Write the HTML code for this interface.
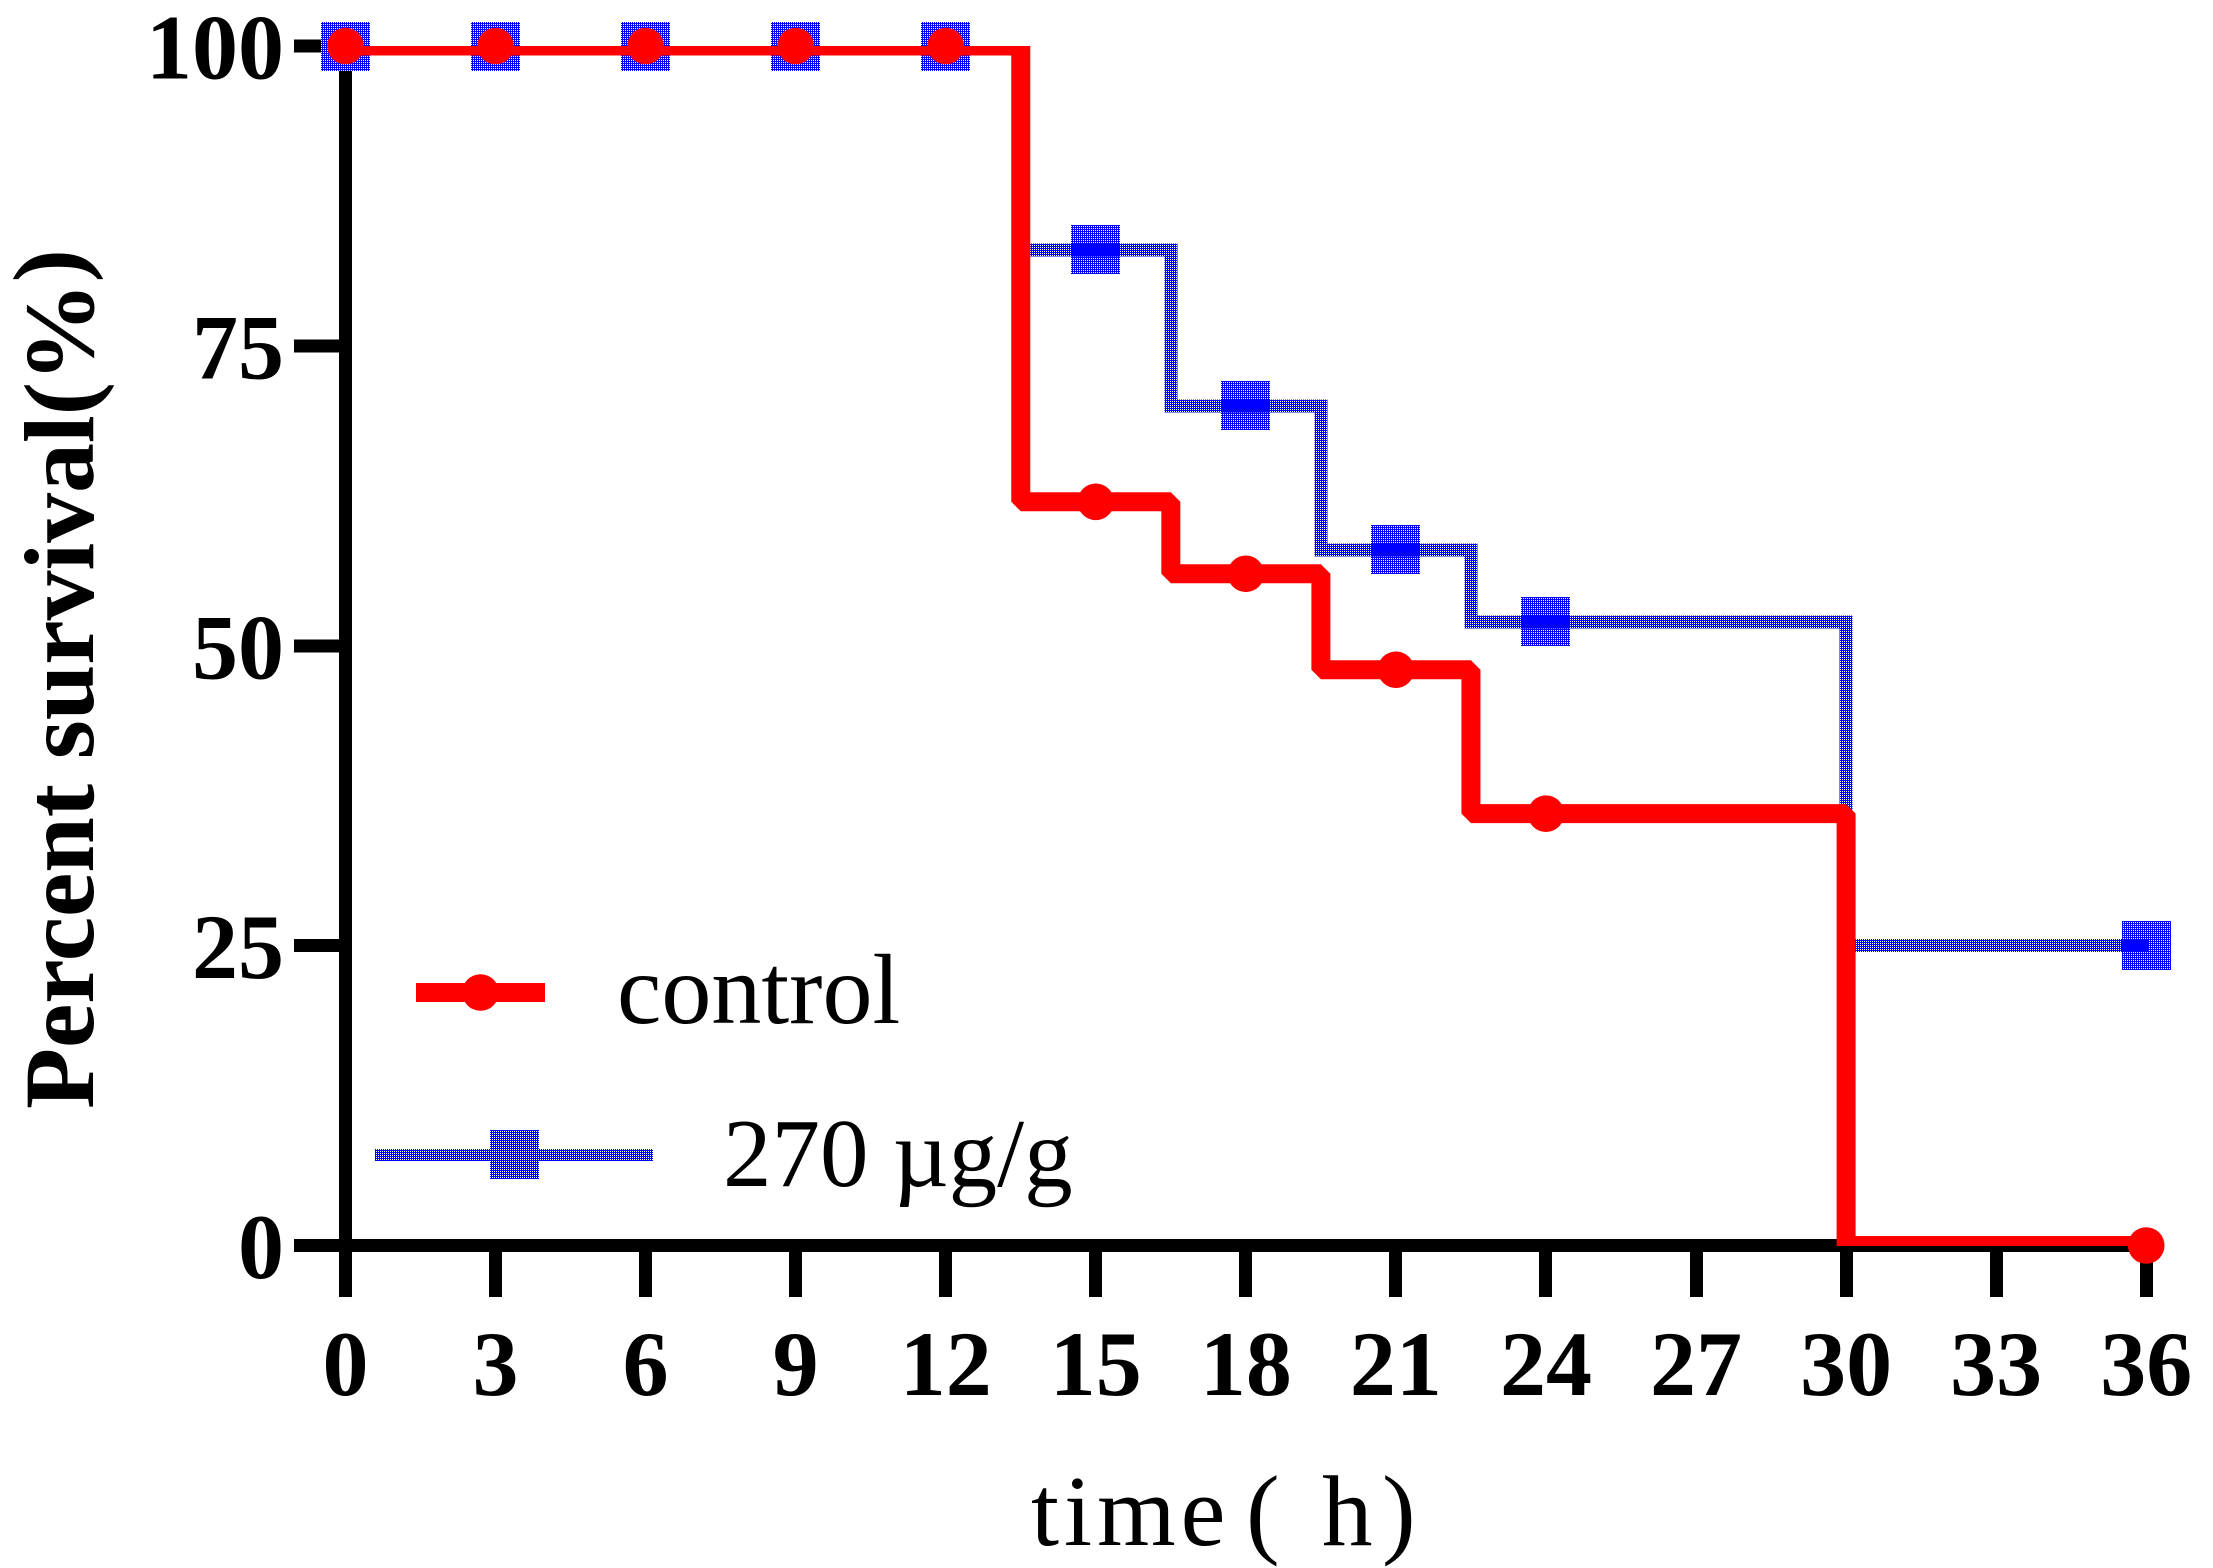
<!DOCTYPE html>
<html lang="en">
<head>
<meta charset="utf-8">
<title>Percent survival over time</title>
<style>
  html, body { margin: 0; padding: 0; background: #fff; }
  body { width: 2213px; height: 1568px; overflow: hidden; }
  svg { display: block; }
  text { font-family: "Liberation Serif", "Noto Serif CJK SC", serif; fill: #000; }
  .tick-label { font-size: 92px; font-weight: bold; }
</style>
</head>
<body>
<svg id="chart" xmlns="http://www.w3.org/2000/svg" width="2213" height="1568" viewBox="0 0 2213 1568">
  <defs>
    <pattern id="line-dither" patternUnits="userSpaceOnUse" x="0" y="0" width="2" height="2">
      <rect x="0" y="0" width="2" height="1" fill="#0000ff"></rect>
      <rect x="1" y="1" width="1" height="1" fill="#0000ff"></rect>
    </pattern>
    <pattern id="marker-dither" patternUnits="userSpaceOnUse" x="0" y="0" width="2" height="2">
      <rect x="0" y="0" width="2" height="2" fill="#0000ff"></rect>
      <rect x="1" y="0" width="1" height="1" fill="#ffffff"></rect>
    </pattern>
    <clipPath id="plot-clip">
      <rect x="300" y="46" width="1900" height="1200"></rect>
    </clipPath>
  </defs>

  <g id="axes"></g>
  <g id="series"></g>

  <text transform="translate(93,1109) rotate(-90)" font-size="100" font-weight="bold" textLength="860" lengthAdjust="spacing">Percent survival(%<tspan dy="-11">)</tspan></text>

  <text y="1545" font-size="101"><tspan x="1031" letter-spacing="5">time</tspan><tspan x="1246">(</tspan><tspan x="1290"> </tspan><tspan x="1322">h</tspan><tspan x="1382">)</tspan></text>

  <g>
    <g>
      <rect x="416" y="983" width="129" height="19" fill="#ff0000"></rect>
      <circle cx="480.5" cy="992.5" r="18.3" fill="#ff0000"></circle>
      <text x="617" y="1023" font-size="100">control</text>
    </g>
    <g>
      <rect x="375" y="1149" width="278" height="12" fill="url(#line-dither)" shape-rendering="crispEdges"></rect>
      <rect x="490" y="1130" width="49" height="49" fill="url(#line-dither)" shape-rendering="crispEdges"></rect>
      <text x="723" y="1186" font-size="97">270 µg/g</text>
    </g>
  </g>
</svg>

<script>
const xTickLabels = [0, 3, 6, 9, 12, 15, 18, 21, 24, 27, 30, 33, 36];
const yTickLabels = [0, 25, 50, 75, 100];
const times = [0, 3, 6, 9, 12, 15, 18, 21, 24, 36];
const controlValues = [100, 100, 100, 100, 100, 62, 56, 48, 36, 0];
const treatedValues = [100, 100, 100, 100, 100, 83, 70, 58, 52, 25];

const SVG_NS = 'http://www.w3.org/2000/svg';
const x = function (t) { return 345.5 + 50.02 * t; };
const y = function (v) { return 1245.5 - 11.995 * v; };
const axesLayer = document.getElementById('axes');
const seriesLayer = document.getElementById('series');

function make(tag, attrs, parent) {
  const el = document.createElementNS(SVG_NS, tag);
  Object.keys(attrs).forEach(function (k) { el.setAttribute(k, attrs[k]); });
  parent.appendChild(el);
  return el;
}

/* Survival step line: each drop falls midway between two observation times. */
function stepPath(ts, vs, endPad) {
  let d = 'M' + x(ts[0]) + ' ' + y(vs[0]);
  for (let i = 1; i < ts.length; i++) {
    const mid = x((ts[i - 1] + ts[i]) / 2);
    d += ' H' + mid + ' V' + y(vs[i]);
  }
  d += ' H' + (x(ts[ts.length - 1]) + endPad);
  return d;
}

/* Axes */
const yAxisLine = make('rect', { x: x(0) - 6.5, y: y(100) - 6.5, width: 13, height: 1297 - (y(100) - 6.5), fill: '#000', 'shape-rendering': 'crispEdges' }, axesLayer);



const xAxisLine = make('rect', { x: 294, y: y(0) - 6.5, width: x(36) + 6.5 - 294, height: 13, fill: '#000', 'shape-rendering': 'crispEdges' }, axesLayer);



xTickLabels.forEach(function (t) {
  const tick = make('rect', { x: Math.round(x(t) - 6.5), y: y(0), width: 13, height: 1297 - y(0), fill: '#000', 'shape-rendering': 'crispEdges' }, axesLayer);
  
  
  const label = make('text', { x: x(t), y: 1395, 'text-anchor': 'middle', class: 'tick-label' }, axesLayer);
  label.textContent = String(t);
  
  
});

yTickLabels.forEach(function (v) {
  const tick = make('rect', { x: 294, y: y(v) - 6.5, width: 45, height: 13, fill: '#000', 'shape-rendering': 'crispEdges' }, axesLayer);
  
  
  const label = make('text', { x: 284, y: y(v) + 32.5, 'text-anchor': 'end', class: 'tick-label' }, axesLayer);
  label.textContent = String(v);
  
  
});

/* 270 ug/g series (drawn first, sits underneath control) */
times.forEach(function (t, i) {
  const marker = make('rect', { x: Math.round(x(t) - 24.5), y: Math.round(y(treatedValues[i]) - 24.5), width: 49, height: 49, fill: 'url(#marker-dither)', 'shape-rendering': 'crispEdges' }, seriesLayer);
  
  
});
const treatedLine = make('path', { d: stepPath(times, treatedValues, 2), fill: 'none', stroke: 'url(#line-dither)', 'stroke-width': 13, 'stroke-linejoin': 'miter', 'clip-path': 'url(#plot-clip)', 'shape-rendering': 'crispEdges' }, seriesLayer);



/* Control series */
const controlLine = make('path', { d: stepPath(times, controlValues, 0), fill: 'none', stroke: '#ff0000', 'stroke-width': 19, 'stroke-linejoin': 'bevel', 'clip-path': 'url(#plot-clip)' }, seriesLayer);



times.forEach(function (t, i) {
  const marker = make('circle', { cx: x(t), cy: y(controlValues[i]), r: 18.3, fill: '#ff0000' }, seriesLayer);
  
  
});
</script>
</body>
</html>
